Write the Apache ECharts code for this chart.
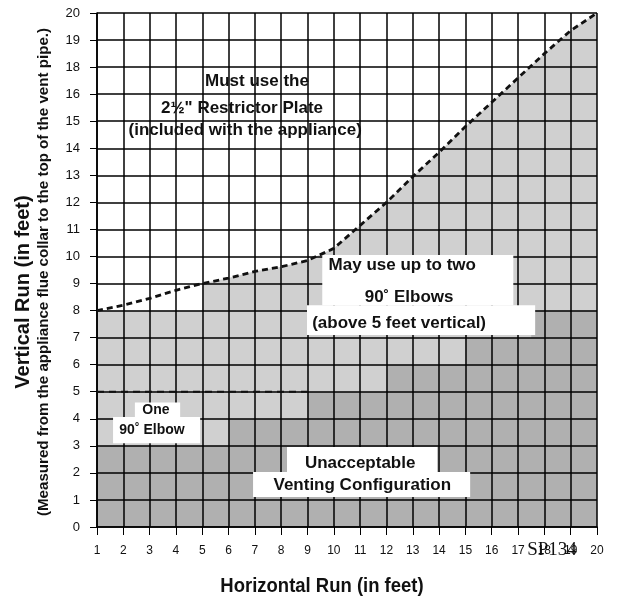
<!DOCTYPE html>
<html><head><meta charset="utf-8">
<script src="https://cdn.jsdelivr.net/npm/echarts@6/dist/echarts.min.js"></script>
<style>html,body{margin:0;padding:0;background:#fff}#c{width:619px;height:602px}</style>
</head><body><div id="c"></div>
<script>
// ---- data ----
const xTickLabels = ['1','2','3','4','5','6','7','8','9','10','11','12','13','14','15','16','17','18','19','20'];
// y grid lines are labelled as printed on the original (17 is missing)
const yTickLabels = ['0','1','2','3','4','5','6','7','8','9','10','11','12','13','14','15','16','18','19','20'];
// dashed restrictor-plate boundary (x = horizontal feet, y = grid line index)
const curveX = [1,2,3,4,5,6,7,8,9,10,11,12,13,14,15,16,17,18,19,20];
const curveY = [8.0,8.2,8.45,8.75,9.0,9.2,9.45,9.62,9.85,10.3,11.15,12.0,12.95,13.85,14.8,15.7,16.6,17.5,18.35,19];
// light shaded region top edge
const lightX = [1,5,5,6,7,8,9,10,11,12,13,14,15,16,17,18,19,20];
const lightY = [8,8,9.0,9.2,9.45,9.62,9.85,10.3,11.15,12.0,12.95,13.85,14.8,15.7,16.6,17.5,18.35,19];
// dark "unacceptable" stepped region top edge
const darkX = [1,6,9,12,15,17.5,20];
const darkY = [3,4,5,6,7,8,8];
// one-elbow limit (dashed at 5 ft)
const oneElbowX = [1,9];
const oneElbowY = [5,5];

// ---- annotations ----
const boxes = [
  [9.56,8.2,16.82,10.05],[8.98,7.1,17.65,8.2],
  [2.44,4.07,4.16,4.6],[1.61,3.1,4.92,4.07],
  [8.22,2.03,13.93,2.96],[6.93,1.11,15.18,2.03]
];
const notes = [
  {t:'Must use the', x:7.08, y:16.49, s:17},
  {t:'2\u00BD" Restrictor Plate', x:6.51, y:15.49, s:17},
  {t:'(included with the appliance)', x:6.63, y:14.68, s:17},
  {t:'May use up to two', x:12.6, y:9.69, s:17},
  {t:'90\u02DA Elbows', x:12.86, y:8.5, s:17},
  {t:'(above 5 feet vertical)', x:12.48, y:7.54, s:17},
  {t:'One', x:3.24, y:4.33, s:14},
  {t:'90\u02DA Elbow', x:3.09, y:3.59, s:14},
  {t:'Unacceptable', x:11.0, y:2.37, s:17},
  {t:'Venting Configuration', x:11.08, y:1.55, s:17}
];

const FONT = "'Liberation Sans', Arial, Helvetica, sans-serif";
const zip = (a,b) => a.map((v,i)=>[v,b[i]]);

const chart = echarts.init(document.getElementById('c'));
chart.setOption({
  animation:false,
  backgroundColor:'#fff',
  grid:{left:97,right:22,top:13,bottom:75,outerBoundsMode:'none'},
  xAxis:{type:'value',min:1,max:20,interval:1,z:3,
    axisLine:{show:true,onZero:false,lineStyle:{color:'#000',width:1.6}},
    axisTick:{show:true,length:8,lineStyle:{color:'#000',width:1}},
    axisLabel:{margin:18,fontSize:12,color:'#111',fontFamily:"'Liberation Sans Narrow', "+FONT,
      formatter:v=>xTickLabels[v-1]||''},
    splitLine:{show:true,lineStyle:{color:'#000',width:1.5}}},
  yAxis:{type:'value',min:0,max:19,interval:1,z:3,
    axisLine:{show:true,onZero:false,lineStyle:{color:'#000',width:1.6}},
    axisTick:{show:true,length:7,lineStyle:{color:'#000',width:1}},
    axisLabel:{margin:17,fontSize:13,color:'#111',fontFamily:FONT,
      formatter:v=>yTickLabels[Math.round(v)]||''},
    splitLine:{show:true,lineStyle:{color:'#000',width:1.5}}},
  series:[
    {type:'line',z:1,data:zip(lightX,lightY),symbol:'none',silent:true,
      lineStyle:{width:0},areaStyle:{color:'#d0d0d0',opacity:1}},
    {type:'line',z:2,data:zip(darkX,darkY),step:'end',symbol:'none',silent:true,
      lineStyle:{width:0},areaStyle:{color:'#b0b0b0',opacity:1}},
    {type:'custom',z:4,silent:true,data:boxes,
      renderItem:(p,api)=>{
        const a=api.coord([api.value(0),api.value(1)]), b=api.coord([api.value(2),api.value(3)]);
        return {type:'rect',shape:{x:Math.min(a[0],b[0]),y:Math.min(a[1],b[1]),width:Math.abs(b[0]-a[0]),height:Math.abs(b[1]-a[1])},style:{fill:'#fff'}};
      }},
    {type:'line',z:6,data:zip(curveX,curveY),symbol:'none',silent:true,
      lineStyle:{color:'#111',width:2.8,type:[6,4]}},
    {type:'line',z:6,data:zip(oneElbowX,oneElbowY),symbol:'none',silent:true,
      lineStyle:{color:'#111',width:2.2,type:[7,5]}},
    {type:'custom',z:7,silent:true,data:notes.map(n=>[n.x,n.y]),
      renderItem:(p,api)=>{
        const c=api.coord([api.value(0),api.value(1)]); const n=notes[p.dataIndex];
        return {type:'text',x:c[0],y:c[1],style:{text:n.t,fontSize:n.s,fontWeight:'bold',fontFamily:FONT,fill:'#111',
          align:'center',verticalAlign:'middle',textAlign:'center',textVerticalAlign:'middle'}};
      }}
  ],
  graphic:[
    {type:'text',x:23,y:292,rotation:Math.PI/2,z:10,
      style:{text:'Vertical Run (in feet)',fontSize:20,fontWeight:'bold',fontFamily:FONT,fill:'#111',align:'center',verticalAlign:'middle'}},
    {type:'text',x:44,y:272,rotation:Math.PI/2,z:10,
      style:{text:'(Measured from the appliance flue collar to the top of the vent pipe.)',fontSize:14,fontWeight:'bold',fontFamily:FONT,fill:'#111',align:'center',verticalAlign:'middle'},
      scaleX:1.08},
    {type:'text',x:322,y:586,z:10,
      style:{text:'Horizontal Run (in feet)',fontSize:21,fontWeight:'bold',fontFamily:FONT,fill:'#111',align:'center',verticalAlign:'middle'},
      scaleX:0.88},
    {type:'text',x:552,y:550,z:10,
      style:{text:'SP134',fontSize:19,fontFamily:"'Liberation Serif', 'DejaVu Serif', serif",fill:'#111',align:'center',verticalAlign:'middle'}}
  ]
});
</script>
</body></html>
